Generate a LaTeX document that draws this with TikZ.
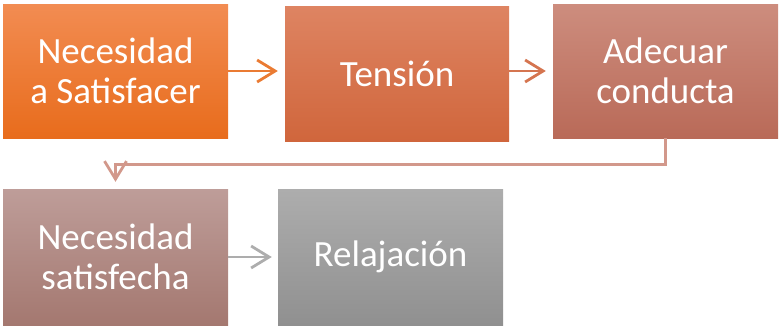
\documentclass[tikz,border=0pt]{standalone}
\usepackage{fontspec}
\setmainfont{Carlito}
\usetikzlibrary{arrows.meta}
\definecolor{orangeTop}{HTML}{F28C52}
\definecolor{orangeBot}{HTML}{E86C1C}
\definecolor{tensTop}{HTML}{DE8462}
\definecolor{tensBot}{HTML}{D0663C}
\definecolor{condTop}{HTML}{CD8D7E}
\definecolor{condBot}{HTML}{B96A58}
\definecolor{satTop}{HTML}{BE9D99}
\definecolor{satBot}{HTML}{A47870}
\definecolor{relTop}{HTML}{ADADAD}
\definecolor{relBot}{HTML}{909090}

\begin{document}
\begin{tikzpicture}[x=1pt, y=-1pt,
  boxStyle/.style={minimum width=225pt, minimum height=134pt, inner sep=0pt, align=center, text=white, font=\fontsize{37}{40}\selectfont},
  arrowStyle/.style={line width=2.8pt, -{Straight Barb[length=18pt,width=22pt]}, shorten >=7pt}
]
\useasboundingbox (0, 0) rectangle (779, 325);

\node [boxStyle, top color=orangeTop, bottom color=orangeBot] (need)  at (115.5, 71)  {Necesidad\\a Satisfacer};
\node [boxStyle, minimum width=224pt, minimum height=135pt, top color=tensTop, bottom color=tensBot] (tension) at (397, 73.5) {Tensión};
\node [boxStyle, top color=condTop, bottom color=condBot] (adapt) at (665.5, 71) {Adecuar\\conducta};

\node [boxStyle, minimum height=136pt, top color=satTop, bottom color=satBot] (done) at (115.5, 257) {Necesidad\\satisfecha};
\node [boxStyle, minimum height=136pt, top color=relTop, bottom color=relBot] (relax) at (390.5, 257) {Relajación};

\draw [arrowStyle, color=orangeBot!90!white] (need.east) -- (tension.west |- need.east);
\draw [arrowStyle, color=tensBot!90!white] (tension.east |- adapt.west) -- (adapt.west);
\draw [arrowStyle, color=condTop!90!white] (adapt.south) -- ++(0, 26) -| (done.north);
\draw [arrowStyle, color=relTop, shorten >=6pt] (done.east) -- (relax.west);
\end{tikzpicture}
\end{document}
